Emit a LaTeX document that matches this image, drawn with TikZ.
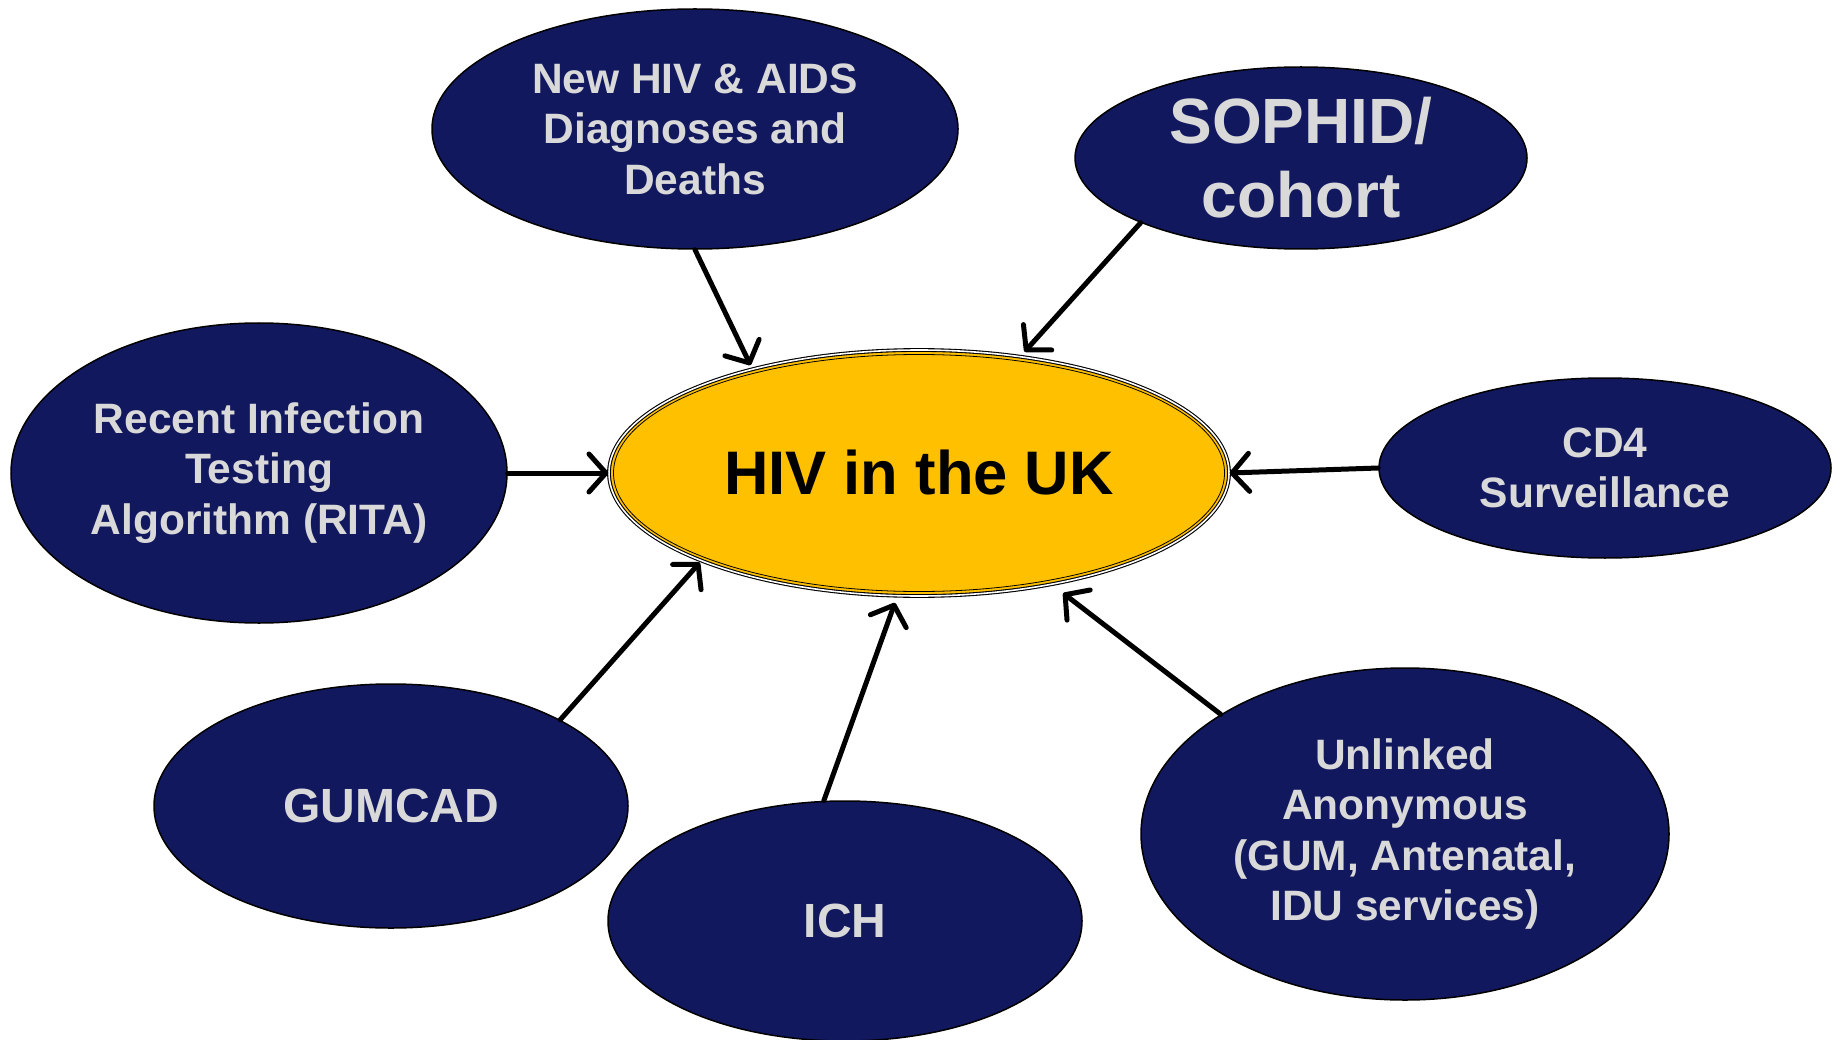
\documentclass[tikz,border=0pt]{standalone}
\usepackage{fontspec}
\setmainfont{Liberation Sans}
\usepackage{xcolor}
\usepackage{tikz}
\usetikzlibrary{shapes,arrows.meta,positioning,calc}

\definecolor{navy}{HTML}{12185E}
\definecolor{gold}{HTML}{FFC000}
\definecolor{lightgrey}{HTML}{D9D9D9}

\begin{document}
\begin{tikzpicture}[x=1pt, y=-1pt,
    source/.style={ellipse, draw=black, fill=navy, line width=1.5pt, inner sep=0pt, text=lightgrey, align=center, font=\bfseries\fontsize{42.5}{50.5}\selectfont},
    hub/.style={ellipse, draw=black, line width=1.1pt, double=white, double distance=1.6pt, fill=gold, inner sep=0pt, font=\bfseries\fontsize{61.5}{70}\selectfont},
    arrow/.style={-{Straight Barb[length=17pt, width=38pt, round]}, line width=5pt, line cap=round}
]
    \useasboundingbox (0,0) rectangle (1843,1040);

    % Centre
    \node[hub, minimum width=620pt, minimum height=246pt] (hiv) at (919,473) {HIV in the UK};
    \draw[line width=0.8pt] (hiv.center) ellipse [x radius=305.5pt, y radius=118.5pt];

    % Data sources
    \node[source, minimum width=526pt, minimum height=240pt] (newhiv) at (695,129) {New HIV \& AIDS\\Diagnoses and\\Deaths};
    \node[source, minimum width=452pt, minimum height=182pt, font=\bfseries\fontsize{64}{74}\selectfont] (sophid) at (1301,158) {SOPHID/\\cohort};
    \node[source, minimum width=496pt, minimum height=300pt] (rita) at (259,473) {Recent Infection\\Testing\\Algorithm (RITA)};
    \node[source, minimum width=452pt, minimum height=180pt] (cd4) at (1605,468) {CD4\\Surveillance};
    \node[source, minimum width=474pt, minimum height=244pt, font=\bfseries\fontsize{48}{56}\selectfont] (gumcad) at (391,806) {GUMCAD};
    \node[source, minimum width=474pt, minimum height=240pt, font=\bfseries\fontsize{48}{56}\selectfont] (ich) at (845,921) {ICH};
    \node[source, minimum width=528pt, minimum height=332pt] (unlinked) at (1405,834) {Unlinked\\Anonymous\\(GUM, Antenatal,\\IDU services)};

    % Arrows into the centre
    \draw[arrow, shorten >=4pt] (newhiv.south) -- (hiv.148);
    \draw[arrow, shorten >=6pt] (sophid.202) -- (hiv.49);
    \draw[arrow] (rita.east) -- (hiv.west);
    \draw[arrow] (cd4.west) -- (hiv.east);
    \draw[arrow, shorten >=2pt] (gumcad.27) -- (hiv.202);
    \draw[arrow, shorten >=7pt] (ich.100) -- (hiv.260);
    \draw[arrow, shorten >=14pt] (unlinked.147) -- (hiv.320);
\end{tikzpicture}
\end{document}
